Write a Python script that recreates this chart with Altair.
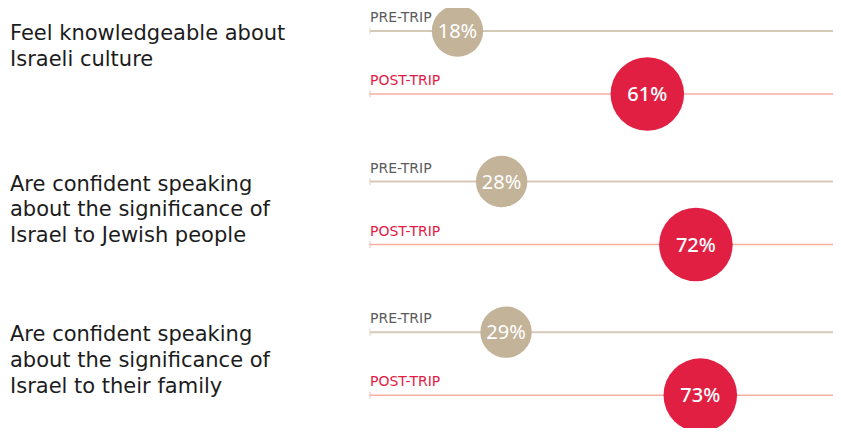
import altair as alt
import pandas as pd

# ---- data ----
questions = [
    "Feel knowledgeable about\nIsraeli culture",
    "Are confident speaking\nabout the significance of\nIsrael to Jewish people",
    "Are confident speaking\nabout the significance of\nIsrael to their family",
]
series_names = ["PRE-TRIP", "POST-TRIP"]
pre_trip = [18, 28, 29]
post_trip = [61, 72, 73]

# ---- layout helpers ----
GROUP_STEP = 2.39  # slots between question groups (one slot = gap between pre & post lines)

rows = []
for g, (q, a, b) in enumerate(zip(questions, pre_trip, post_trip)):
    for s, (name, v) in enumerate(zip(series_names, [a, b])):
        rows.append({"group": g, "series": name, "value": v,
                     "slot": g * GROUP_STEP + s, "pct": f"{v}%"})
df = pd.DataFrame(rows)
qdf = pd.DataFrame({"question": questions,
                    "slot": [g * GROUP_STEP for g in range(len(questions))]})

W, H = 825, 420
xscale = alt.Scale(domain=[0, 100], range=[370, 811.5], nice=False, zero=False)
yscale = alt.Scale(domain=[0, 1], range=[23, 86], nice=False, zero=False)

X = alt.X("value:Q", scale=xscale, axis=None)
Y = alt.Y("slot:Q", scale=yscale, axis=None)

IS_PRE = "datum.series == 'PRE-TRIP'"

lines = alt.Chart(df).mark_rule().encode(
    x=alt.value(362), x2=alt.value(W), y=Y,
    color=alt.condition(IS_PRE, alt.value("#d5c9b7"), alt.value("#f6ae9f")),
    strokeWidth=alt.condition(IS_PRE, alt.value(2), alt.value(1.5)),
)
ticks = alt.Chart(df).mark_tick(orient="vertical", size=7, thickness=1.2).encode(
    x=alt.value(362), y=Y,
    color=alt.condition(IS_PRE, alt.value("#d5c9b7"), alt.value("#f6ae9f")),
)
circles = alt.Chart(df).mark_circle(opacity=1).encode(
    x=X, y=Y,
    color=alt.condition(IS_PRE, alt.value("#c3b399"), alt.value("#e11f43")),
    size=alt.condition(IS_PRE, alt.value(2642), alt.value(5411)),
)
pct_pre = alt.Chart(df).transform_filter(IS_PRE).mark_text(
    font="Noto Sans", fontSize=20, fontWeight="normal", color="white",
    align="center", baseline="middle", dy=1,
).encode(x=X, y=Y, text="pct:N")
pct_post = alt.Chart(df).transform_filter("!(" + IS_PRE + ")").mark_text(
    font="Noto Sans", fontSize=20, fontWeight=500, color="white",
    align="center", baseline="middle", dy=1,
).encode(x=X, y=Y, text="pct:N")
series_lbl = alt.Chart(df).mark_text(
    font="DejaVu Sans", fontSize=14, align="left",
    baseline="alphabetic", dy=-9,
).encode(
    x=alt.value(362), y=Y, text="series:N",
    color=alt.condition(IS_PRE, alt.value("#5b5b5b"), alt.value("#e31b45")),
)
qlabels = alt.Chart(qdf).mark_text(
    font="DejaVu Sans", fontSize=21, color="#1c1c1c",
    align="left", baseline="alphabetic", dy=9, lineBreak="\n", lineHeight=25.7,
).encode(x=alt.value(2), y=Y, text="question:N")

chart = alt.layer(lines, ticks, circles, pct_pre, pct_post, series_lbl, qlabels).properties(
    width=W, height=H, padding=0, autosize=alt.AutoSizeParams(type="none"),
).configure_view(stroke=None)

chart.save("out.html", embed_options={"renderer": "svg", "actions": False})
